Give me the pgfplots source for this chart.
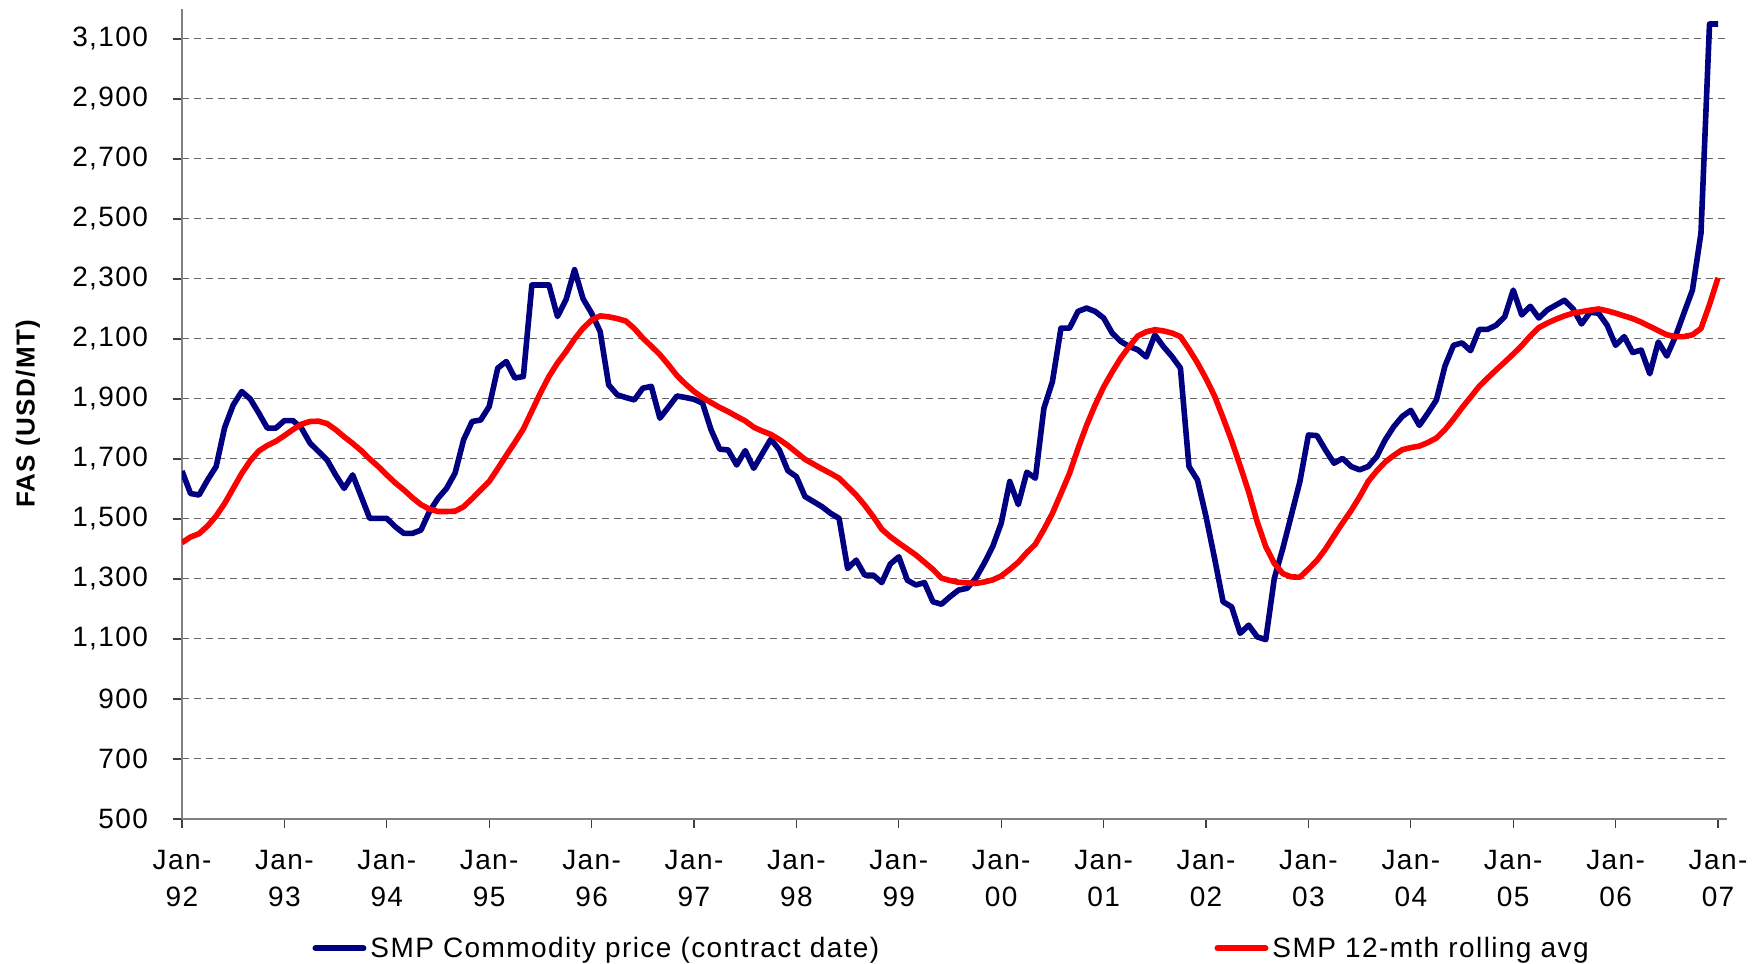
\documentclass[border=0pt]{standalone}
\usepackage{fontspec}
\setmainfont{Liberation Sans}[LetterSpace=5]
\usepackage{pgfplots}
\usepackage{pgfplotstable}
\pgfplotsset{compat=1.18}
\definecolor{smpblue}{RGB}{0,0,128}
\definecolor{smpred}{RGB}{255,0,0}
\definecolor{axisgray}{RGB}{128,128,128}
\newcommand\chartfont{\fontsize{14}{18.3}\selectfont}

% month index (0 = Jan-92), price in USD/MT
\pgfplotstableread{
m v
0 1660
1 1585
2 1580
3 1630
4 1675
5 1805
6 1880
7 1925
8 1900
9 1853
10 1803
11 1803
12 1828
13 1828
14 1803
15 1753
16 1725
17 1697
18 1647
19 1602
20 1647
21 1575
22 1502
23 1502
24 1502
25 1474
26 1452
27 1452
28 1463
29 1525
30 1569
31 1602
32 1653
33 1764
34 1825
35 1830
36 1875
37 2003
38 2025
39 1970
40 1975
41 2280
42 2280
43 2280
44 2175
45 2231
46 2331
47 2234
48 2186
49 2125
50 1947
51 1914
52 1905
53 1897
54 1936
55 1942
56 1836
57 1873
58 1910
59 1905
60 1899
61 1886
62 1797
63 1733
64 1730
65 1680
66 1728
67 1669
68 1718
69 1766
70 1730
71 1661
72 1641
73 1575
74 1558
75 1541
76 1519
77 1502
78 1335
79 1363
80 1313
81 1313
82 1288
83 1350
84 1374
85 1296
86 1280
87 1288
88 1224
89 1216
90 1241
91 1263
92 1269
93 1302
94 1352
95 1408
96 1486
97 1625
98 1548
99 1656
100 1636
101 1869
102 1958
103 2136
104 2136
105 2192
106 2203
107 2192
108 2170
109 2120
110 2092
111 2075
112 2064
113 2040
114 2114
115 2075
116 2042
117 2003
118 1675
119 1630
120 1508
121 1369
122 1224
123 1207
124 1119
125 1146
126 1107
127 1098
128 1302
129 1402
130 1513
131 1625
132 1780
133 1778
134 1730
135 1686
136 1702
137 1675
138 1664
139 1675
140 1708
141 1764
142 1808
143 1842
144 1862
145 1812
146 1853
147 1897
148 2010
149 2079
150 2087
151 2061
152 2132
153 2132
154 2146
155 2174
156 2263
157 2180
158 2209
159 2170
160 2197
161 2213
162 2229
163 2201
164 2150
165 2189
166 2186
167 2146
168 2079
169 2108
170 2055
171 2063
172 1984
173 2090
174 2043
175 2108
176 2186
177 2263
178 2453
179 3150
180 3150
}\smpprice

% 12-month rolling average
\pgfplotstableread{
m v
0 1421
1 1440
2 1451
3 1477
4 1510
5 1552
6 1602
7 1652
8 1694
9 1727
10 1745
11 1759
12 1778
13 1798
14 1816
15 1825
16 1826
17 1818
18 1798
19 1774
20 1752
21 1728
22 1700
23 1675
24 1647
25 1620
26 1597
27 1571
28 1548
29 1533
30 1525
31 1525
32 1526
33 1541
34 1568
35 1597
36 1625
37 1668
38 1712
39 1755
40 1800
41 1860
42 1920
43 1975
44 2020
45 2058
46 2100
47 2136
48 2163
49 2177
50 2174
51 2168
52 2160
53 2135
54 2103
55 2076
56 2048
57 2014
58 1978
59 1950
60 1925
61 1905
62 1888
63 1872
64 1858
65 1842
66 1827
67 1806
68 1793
69 1782
70 1765
71 1745
72 1722
73 1699
74 1683
75 1667
76 1652
77 1636
78 1608
79 1580
80 1546
81 1508
82 1466
83 1441
84 1420
85 1400
86 1380
87 1356
88 1332
89 1303
90 1295
91 1289
92 1287
93 1285
94 1290
95 1297
96 1310
97 1332
98 1356
99 1388
100 1416
101 1465
102 1519
103 1585
104 1652
105 1735
106 1812
107 1880
108 1940
109 1990
110 2036
111 2075
112 2110
113 2124
114 2131
115 2127
116 2120
117 2108
118 2066
119 2020
120 1968
121 1910
122 1837
123 1761
124 1677
125 1590
126 1490
127 1408
128 1352
129 1318
130 1307
131 1306
132 1333
133 1362
134 1400
135 1444
136 1487
137 1528
138 1574
139 1625
140 1660
141 1690
142 1712
143 1731
144 1738
145 1743
146 1755
147 1770
148 1798
149 1833
150 1871
151 1906
152 1942
153 1970
154 1997
155 2023
156 2050
157 2078
158 2110
159 2138
160 2153
161 2166
162 2177
163 2186
164 2191
165 2196
166 2200
167 2194
168 2186
169 2177
170 2168
171 2156
172 2142
173 2128
174 2114
175 2108
176 2108
177 2114
178 2135
179 2215
180 2304
}\smpavg

\begin{document}
\begin{tikzpicture}
\useasboundingbox (0,0) rectangle (881pt,482pt);
\begin{axis}[
  at={(91pt,72.5pt)}, anchor=south west,
  scale only axis, width=772.5pt, height=405pt,
  xmin=0, xmax=181.05, ymin=500, ymax=3200,
  axis lines=left,
  axis line style={-, draw=axisgray, line width=0.75pt},
  xtick={0,12,...,180},
  xticklabels={{Jan-\\92},{Jan-\\93},{Jan-\\94},{Jan-\\95},{Jan-\\96},{Jan-\\97},{Jan-\\98},{Jan-\\99},{Jan-\\00},{Jan-\\01},{Jan-\\02},{Jan-\\03},{Jan-\\04},{Jan-\\05},{Jan-\\06},{Jan-\\07}},
  ytick={500,700,...,3100},
  tick align=outside, major tick length=4.5pt,
  tick style={draw=black!75, line width=0.6pt},
  ymajorgrids,
  grid style={draw=black!60, line width=0.5pt, dash pattern=on 3.5pt off 2.5pt},
  tick label style={font=\chartfont},
  xticklabel style={align=center, yshift=-7.7pt},
  yticklabel style={xshift=-9pt, /pgf/number format/1000 sep={,}, /pgf/number format/assume math mode=true},
  ylabel={FAS (USD/MT)},
  ylabel style={font=\fontsize{13}{15}\selectfont\bfseries, at={(axis description cs:-0.0998,0.5)}, anchor=center},
  legend style={at={(axis description cs:0.0842,-0.1598)}, anchor=west, draw=none, fill=none,
    font=\chartfont, inner sep=0pt, legend columns=2,
    /tikz/every even column/.append style={column sep=165.6pt}},
  legend cell align=left,
  legend image code/.code={\draw[#1, line width=3pt, line cap=round] (0pt,0pt) -- (24pt,0pt);},
]
\addplot[smpblue, line width=2.8pt, line join=round] table[x=m, y=v] {\smpprice};
\addlegendentry{SMP Commodity price (contract date)}
\addplot[smpred, line width=2.8pt, line join=round] table[x=m, y=v] {\smpavg};
\addlegendentry{SMP 12-mth rolling avg}
\end{axis}
\end{tikzpicture}
\end{document}
